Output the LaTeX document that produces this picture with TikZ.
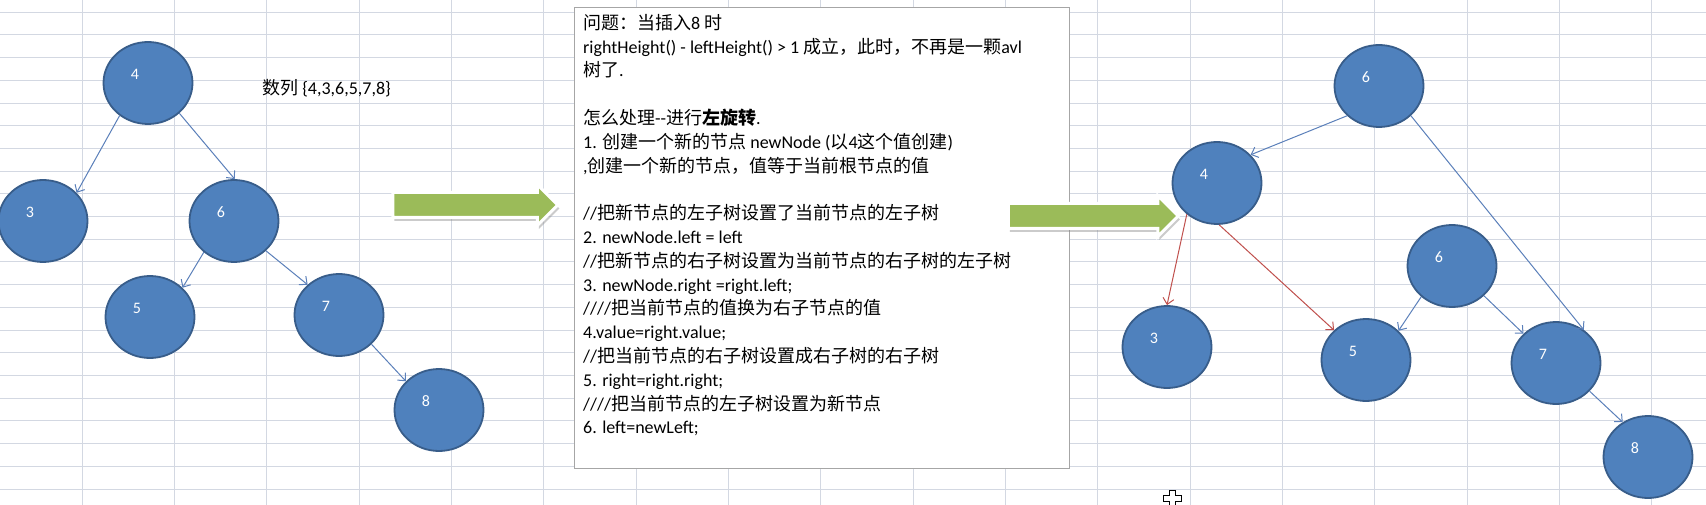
\documentclass[tikz,border=0pt]{standalone}
\usepackage{fontspec}
\setmainfont{Carlito}
\newfontfamily\cjk{Noto Sans CJK SC}
\newcommand\zh[1]{{\cjk #1}}
\usepackage{xcolor}
\usetikzlibrary{arrows.meta,shapes.geometric,shapes.arrows,shadows}
\definecolor{nodefill}{HTML}{4F81BD}
\definecolor{nodeline}{HTML}{385D8A}
\definecolor{linkblue}{HTML}{5B80BA}
\definecolor{linkred}{HTML}{C0504D}
\definecolor{gridline}{HTML}{D3D8E2}
\definecolor{arrowgreen}{HTML}{9BBB59}
\definecolor{boxline}{HTML}{A6A6A6}

\begin{document}
\begin{tikzpicture}[
    x=1pt, y=-1pt,
    cell/.style={draw=gridline, line width=1pt},
    bnode/.style={ellipse, draw=nodeline, fill=nodefill, line width=1.8pt, minimum width=89pt, minimum height=82pt, inner sep=0pt},
    num/.style={text=white, font=\fontsize{16}{16}\selectfont, inner sep=0pt, xshift=-13pt, yshift=9pt},
    link/.style={-{Straight Barb[length=6pt, width=11pt]}, draw=linkblue, line width=1pt},
    redlink/.style={link, draw=linkred},
    turn/.style={single arrow, fill=arrowgreen, draw=white, line width=3pt, inner xsep=0pt, inner ysep=11pt, single arrow head extend=8pt, single arrow tip angle=90, drop shadow={shadow xshift=1.5pt, shadow yshift=-3.5pt, opacity=0.45, fill=black!45}},
    notebox/.style={draw=boxline, fill=white, line width=1pt, minimum width=495pt, minimum height=461pt, anchor=north west, inner sep=0pt},
    notetext/.style={anchor=north west, inner sep=0pt, align=left, font=\fontsize{18}{23.8}\selectfont}
]
\useasboundingbox (0,0) rectangle (1706,505);
\fill[white] (0,0) rectangle (1706,505);
\foreach \k in {0,...,21}
    \draw[cell] (0,{12.3+22.7*\k}) -- (1706,{12.3+22.7*\k});
\foreach \k in {0,...,17}
    \draw[cell] ({82+92.34*\k},0) -- ({82+92.34*\k},505);

\node[bnode, label={[num]center:4}] (l4) at (148,83) {};
\node[bnode, label={[num]center:3}] (l3) at (43,221) {};
\node[bnode, label={[num]center:6}] (l6) at (234,221) {};
\node[bnode, label={[num]center:5}] (l5) at (150,317) {};
\node[bnode, label={[num]center:7}] (l7) at (339,315) {};
\node[bnode, label={[num]center:8}] (l8) at (439,410) {};
\node[anchor=west, inner sep=0pt, font=\fontsize{18}{18}\selectfont] (seq) at (262,88) {\zh{数列} \{4,3,6,5,7,8\}};

\draw[link] (l4.-131) -- (l3.40);
\draw[link] (l4.-44) -- (l6.89);
\draw[link] (l6.-134) -- (l5.42);
\draw[link] (l6.-43) -- (l7.136);
\draw[link] (l7.-42) -- (l8.139);

\node[turn, minimum height=165pt] (go1) at (469,205) {};

\node[notebox] (note) at (574,7) {};
\node[notetext] (notetext) at (583,14) {\zh{问题：当插入}8 \zh{时}\\
rightHeight() - leftHeight() > 1 \zh{成立，此时，不再是一颗}avl\\
\zh{树了}.\\
\mbox{}\\
\zh{怎么处理}-{}-\zh{进行}{\cjk\bfseries 左旋转}.\\
1. \zh{创建一个新的节点} newNode (\zh{以}4\zh{这个值创建})\\
,\zh{创建一个新的节点，值等于当前根节点的值}\\
\mbox{}\\
//\zh{把新节点的左子树设置了当前节点的左子树}\\
2. newNode.left = left\\
//\zh{把新节点的右子树设置为当前节点的右子树的左子树}\\
3. newNode.right =right.left;\\
////\zh{把当前节点的值换为右子节点的值}\\
4.value=right.value;\\
//\zh{把当前节点的右子树设置成右子树的右子树}\\
5. right=right.right;\\
////\zh{把当前节点的左子树设置为新节点}\\
6. left=newLeft;};

\node[turn, minimum height=170pt] (go2) at (1087,216) {};

\node[bnode, label={[num]center:6}] (r6top) at (1379,86) {};
\node[bnode, label={[num]center:4}] (r4) at (1217,183) {};
\node[bnode, label={[num]center:3}] (r3) at (1167,347) {};
\node[bnode, label={[num]center:5}] (r5) at (1366,360) {};
\node[bnode, label={[num]center:6}] (r6) at (1452,266) {};
\node[bnode, label={[num]center:7}] (r7) at (1556,363) {};
\node[bnode, label={[num]center:8}] (r8) at (1648,457) {};

\draw[link] (r6top.-137) -- (r4.40);
\draw[link] (r6top.-43) -- (r7.50);
\draw[redlink] (r4.-134) -- (r3.90);
\draw[redlink] (r4.-87) -- (r5.137);
\draw[link] (r6.-135) -- (r5.42);
\draw[link] (r6.-43) -- (r7.138);
\draw[link] (r7.-40) -- (r8.126);

\draw[fill=white, line width=1pt] (1169,490) -- (1175,490) -- (1175,495) -- (1181,495) -- (1181,501) -- (1175,501) -- (1175,506) -- (1169,506) -- (1169,501) -- (1163,501) -- (1163,495) -- (1169,495) -- cycle;
\end{tikzpicture}
\end{document}
